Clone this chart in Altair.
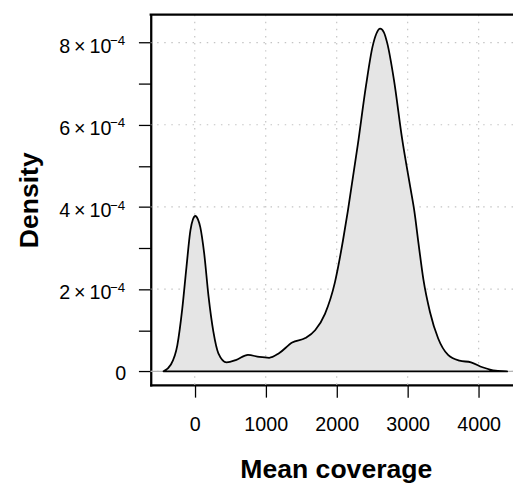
import altair as alt
import pandas as pd

# Density curve (density values)
coverage = [-440, -338, -245, -176, -116, -61, -25, 8, 45, 78, 133, 194, 263, 333, 448,
            587, 749, 910, 1049, 1187, 1373, 1558, 1696, 1835, 1974, 2089, 2158,
            2297, 2413, 2505, 2560, 2612, 2665, 2713, 2806, 2921, 3040, 3093, 3153,
            3222, 3315, 3430, 3569, 3731, 3892, 4054, 4239, 4401]
density = [0.0, 0.16e-4, 0.64e-4, 1.52e-4, 2.55e-4, 3.43e-4, 3.70e-4, 3.78e-4, 3.70e-4,
           3.51e-4, 2.87e-4, 1.83e-4, 0.96e-4, 0.44e-4, 0.22e-4,
           0.28e-4, 0.40e-4, 0.35e-4, 0.33e-4, 0.44e-4, 0.70e-4, 0.81e-4, 1.00e-4,
           1.40e-4, 2.16e-4, 3.19e-4, 3.91e-4,
           5.51e-4, 6.95e-4, 7.90e-4, 8.22e-4, 8.34e-4, 8.25e-4, 7.98e-4, 7.10e-4,
           5.67e-4, 4.45e-4, 3.91e-4, 3.11e-4,
           2.23e-4, 1.44e-4, 0.80e-4, 0.40e-4, 0.26e-4, 0.22e-4, 0.10e-4, 0.015e-4, 0.0]

x_ticks = [0, 1000, 2000, 3000, 4000]
y_ticks = [0, 1e-4, 2e-4, 3e-4, 4e-4, 5e-4, 6e-4, 7e-4, 8e-4]
y_grid = [0, 2e-4, 4e-4, 6e-4, 8e-4]
y_label_vals = [2e-4, 4e-4, 6e-4, 8e-4]
y_label_main = ["2\u2009\u00d7\u200910", "4\u2009\u00d7\u200910",
                "6\u2009\u00d7\u200910", "8\u2009\u00d7\u200910"]
y_label_sup = ["\u22124", "\u22124", "\u22124", "\u22124"]
zero_line = [0]

FONT = "Liberation Sans"

curve = pd.DataFrame({"coverage": coverage, "density": density})
xgrid_df = pd.DataFrame({"coverage": x_ticks})
ygrid_df = pd.DataFrame({"density": y_grid})
zero_df = pd.DataFrame({"density": zero_line})
ylab_df = pd.DataFrame({"density": y_label_vals, "main": y_label_main, "sup": y_label_sup})

xscale = alt.Scale(domain=[-620, 4484], nice=False, zero=False)
yscale = alt.Scale(domain=[-0.328e-4, 8.678e-4], nice=False, zero=False)

xaxis = alt.Axis(
    values=x_ticks, format="d", grid=False,
    domain=True, domainColor="black", domainWidth=2.3, domainCap="square",
    ticks=True, tickSize=12.5, tickWidth=1.3, tickColor="black",
    labelFont=FONT, labelFontSize=20, labelColor="black", labelPadding=18,
    labelFlush=False, labelOverlap=False,
    title="Mean coverage", titleFont=FONT, titleFontSize=27, titleFontWeight="bold",
    titleColor="black", titleX=188, titleY=94, titleBaseline="alphabetic",
)
yaxis = alt.Axis(
    values=y_ticks, grid=False,
    labelExpr="datum.value == 0 ? '0' : ''",
    domain=True, domainColor="black", domainWidth=2.3, domainCap="square",
    ticks=True, tickSize=12.5, tickWidth=1.3, tickColor="black",
    labelFont=FONT, labelFontSize=20, labelColor="black", labelPadding=13,
    labelFlush=False, labelOverlap=False, labelBaseline="middle", labelOffset=2.4,
    title="Density", titleFont=FONT, titleFontSize=27, titleFontWeight="bold",
    titleColor="black", titleX=-115, titleBaseline="alphabetic",
)

xenc = alt.X("coverage:Q", scale=xscale, axis=xaxis)
yenc = alt.Y("density:Q", scale=yscale, axis=yaxis)

grid_style = dict(color="#c4c4c4", strokeWidth=1.2, strokeDash=[1.5, 5.7])

vgrid = alt.Chart(xgrid_df).mark_rule(**grid_style).encode(x=xenc)
hgrid = alt.Chart(ygrid_df).mark_rule(**grid_style).encode(y=yenc)
zero = alt.Chart(zero_df).mark_rule(color="#b4b4b4", strokeWidth=1.3).encode(y=yenc)

area = alt.Chart(curve).mark_area(
    fill="#e5e5e5", stroke="black", strokeWidth=1.8, interpolate="monotone",
    strokeJoin="round"
).encode(x=xenc, y=yenc)

top_frame = alt.Chart(zero_df).mark_rule(
    color="black", strokeWidth=2.3, strokeCap="square"
).encode(y=alt.value(0))

# y tick labels of the form  n x 10^-4  (mantissa + raised exponent)
ylab_main = alt.Chart(ylab_df).mark_text(
    font=FONT, fontSize=20, color="black", align="right", baseline="alphabetic", dy=10.3
).encode(y=yenc, x=alt.value(-40), text="main:N")
ylab_sup = alt.Chart(ylab_df).mark_text(
    font=FONT, fontSize=13.5, color="black", align="left", baseline="alphabetic", dy=2.7
).encode(y=yenc, x=alt.value(-41.5), text="sup:N")

chart = alt.layer(vgrid, hgrid, zero, area, top_frame, ylab_main, ylab_sup).properties(
    width=368,
    height=376,
    autosize=alt.AutoSizeParams(type="none"),
    padding={"left": 145, "top": 3, "right": 0, "bottom": 101},
    background="white",
).configure_view(stroke=None)

chart.save("out.html", embed_options={"renderer": "svg", "actions": False})
